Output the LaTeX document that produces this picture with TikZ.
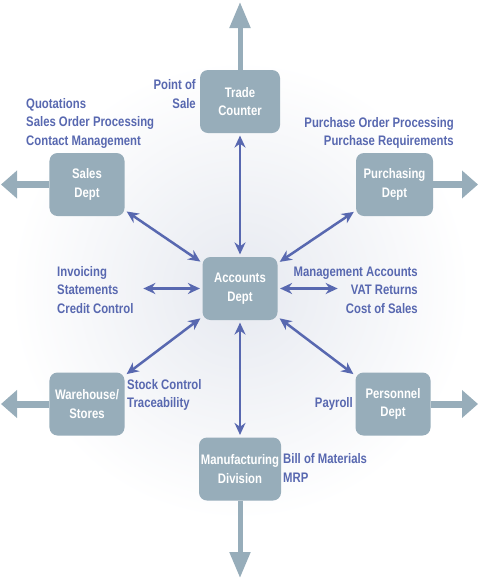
\documentclass[tikz,border=0pt]{standalone}
\usepackage{fontspec}
\setmainfont{Liberation Sans}[FakeStretch=0.82]
\usetikzlibrary{arrows.meta,positioning}
\definecolor{boxgrey}{RGB}{151,173,186}
\definecolor{linkblue}{RGB}{88,104,176}
\definecolor{glow}{RGB}{230,233,240}

\begin{document}
\begin{tikzpicture}[x=0.03cm, y=-0.03cm,
    every node/.style={font=\bfseries\fontsize{11.8}{15.8}\selectfont},
    dept/.style={fill=boxgrey, rounded corners=0.24cm, text=white, align=center,
      minimum width=2.25cm, minimum height=1.89cm, inner sep=1pt},
    info/.style={text=linkblue, inner sep=0pt},
    link/.style={linkblue, line width=0.075cm, shorten <=2pt, shorten >=2pt,
      {Stealth[length=0.36cm,width=0.33cm]}-{Stealth[length=0.36cm,width=0.33cm]}},
    outv/.style={boxgrey, line width=0.15cm, -{Triangle[length=0.78cm,width=0.6cm]}},
    outh/.style={boxgrey, line width=0.21cm, -{Triangle[length=0.48cm,width=0.81cm]}}]
        \useasboundingbox (0,0) rectangle (480,583);

        % soft glow behind the middle
        \begin{scope}
          \clip (0,0) rectangle (480,583);
          \shade[inner color=glow, outer color=white] (240,290) circle (230);
        \end{scope}

        % departments
        \node[dept, minimum width=2.4cm] (trade) at (240,101.5) {Trade\\Counter};
        \node[dept] (sales) at (87,184.5) {Sales\\Dept};
        \node[dept, minimum width=2.31cm] (purch) at (394.5,184.5) {Purchasing\\Dept};
        \node[dept] (acct) at (240,288.5) {Accounts\\Dept};
        \node[dept] (store) at (87,404) {Warehouse/\\Stores};
        \node[dept] (staff) at (393,404) {Personnel\\Dept};
        \node[dept, minimum width=2.46cm] (mfg) at (240,469) {Manufacturing\\Division};

        % arrows leaving the picture
        \coordinate (trade-out) at (240,2);
        \coordinate (mfg-out) at (240,578);
        \coordinate (sales-out) at (1,184.5);
        \coordinate (purch-out) at (478,184.5);
        \coordinate (store-out) at (1,404);
        \coordinate (staff-out) at (478,404);
        \foreach \d in {trade,mfg}
          \draw[outv] (\d) -- (\d-out);
        \foreach \d in {sales,purch,store,staff}
          \draw[outh] (\d) -- (\d-out);

        % what each department does
        \node[info, anchor=east, align=right] (posinfo) at (196,94) {Point of\\Sale};
        \node[info, anchor=west, align=left] (salesinfo) at (26,123)
          {Quotations\\Sales Order Processing\\Contact Management};
        \node[info, anchor=east, align=right] (purchinfo) at (454,133)
          {Purchase Order Processing\\Purchase Requirements};
        \node[info, anchor=west, align=left] (acctleft) at (57,290)
          {Invoicing\\Statements\\Credit Control};
        \node[info, anchor=east, align=right] (acctright) at (418,290)
          {Management Accounts\\VAT Returns\\Cost of Sales};
        \node[info, anchor=west, align=left] (storeinfo) at (127,395)
          {Stock Control\\Traceability};
        \node[info, anchor=east] (staffinfo) at (353,404) {Payroll};
        \node[info, anchor=west, align=left] (mfginfo) at (283,468)
          {Bill of Materials\\MRP};

        % links to accounts
        \coordinate (acctleft-end) at (141,288.5);
        \coordinate (acctright-end) at (340,288.5);
        \foreach \d in {trade,sales,purch,store,staff,mfg}
          \draw[link] (\d) -- (acct);
        \draw[link] (acctleft-end) -- (acct);
        \draw[link] (acct) -- (acctright-end);
\end{tikzpicture}
\end{document}
